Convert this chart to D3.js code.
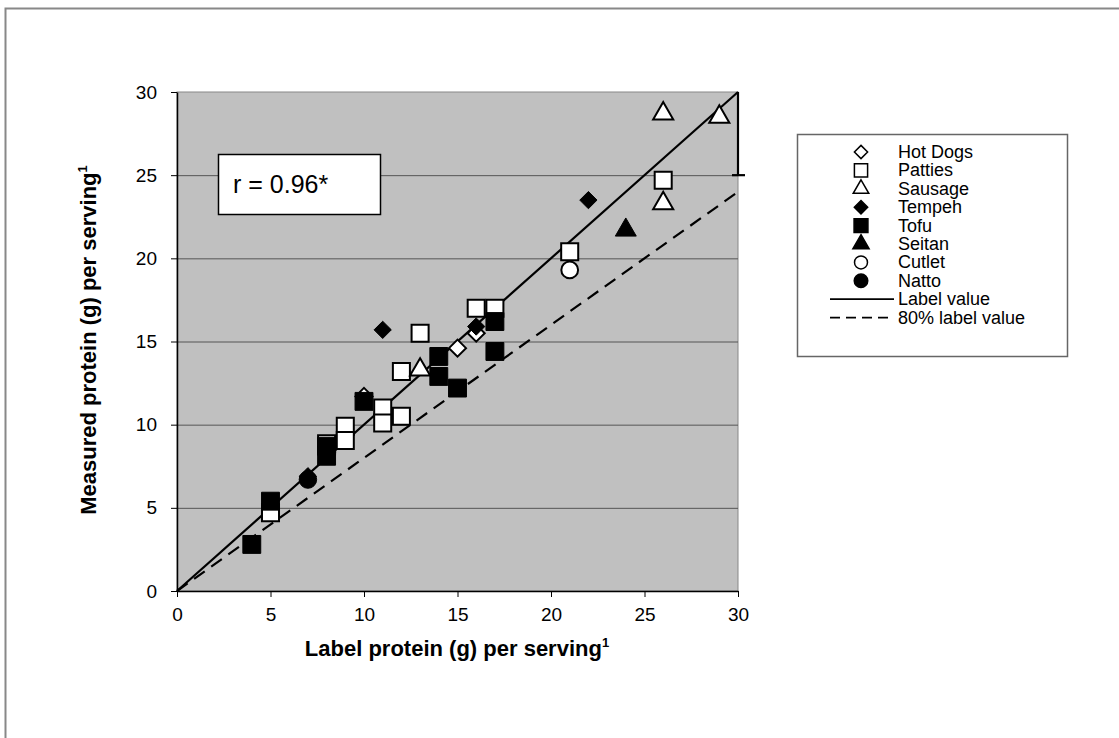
<!DOCTYPE html>
<html lang="en">
<head>
  <meta charset="UTF-8">
  <title>Label vs measured protein</title>
  <style>
    body { margin: 0; background: #fff; font-family: "Liberation Sans", Arial, sans-serif; }
    svg { display: block; }
    .grid line { stroke: #555; stroke-width: 1; }
  </style>
</head>
<body>
  <svg width="1119" height="738"></svg>

  <script src="https://d3js.org/d3.v7.min.js"></script>
  <script>
    // data: [label, measured]
    const hotDogs = [[15, 14.6], [16, 15.5], [10, 11.7]];
    const patties = [[5, 4.7], [8, 8.85], [9, 9.9], [9, 9.05], [11, 11.0], [11, 10.1], [12, 13.2],
                     [12, 10.5], [13, 15.5], [16, 17.0], [17, 17.0], [21, 20.4], [26, 24.7]];
    const sausage = [[13, 13.3], [26, 28.7], [26, 23.3], [29, 28.5]];
    const tempeh = [[7, 6.9], [11, 15.7], [16, 15.9], [22, 23.5]];
    const tofu = [[4, 2.8], [5, 5.4], [8, 8.7], [8, 8.1], [10, 11.4], [14, 14.1], [14, 12.9],
                  [15, 12.2], [17, 16.2], [17, 14.4]];
    const seitan = [[24, 21.7]];
    const cutlet = [[21, 19.3]];
    const natto = [[7, 6.7]];

    const xTicks = [0, 5, 10, 15, 20, 25, 30];
    const yTicks = [0, 5, 10, 15, 20, 25, 30];
    const rText = "r = 0.96*";

    const series = [
      { name: "Hot Dogs", data: hotDogs, shape: d3.symbolDiamond2, fill: "#fff", size: 185 },
      { name: "Patties", data: patties, shape: d3.symbolSquare, fill: "#fff", size: 290 },
      { name: "Sausage", data: sausage, shape: d3.symbolTriangle, fill: "#fff", size: 175 },
      { name: "Tempeh", data: tempeh, shape: d3.symbolDiamond2, fill: "#000", size: 190 },
      { name: "Tofu", data: tofu, shape: d3.symbolSquare, fill: "#000", size: 320 },
      { name: "Seitan", data: seitan, shape: d3.symbolTriangle, fill: "#000", size: 190 },
      { name: "Cutlet", data: cutlet, shape: d3.symbolCircle, fill: "#fff", size: 220 },
      { name: "Natto", data: natto, shape: d3.symbolCircle, fill: "#000", size: 240 }
    ];

    const svg = d3.select("svg");

    // outer chart frame (only left and top edges fall inside the picture)
    svg.append("rect")
      .attr("x", 5.5).attr("y", 8.5)
      .attr("width", 1300).attr("height", 900)
      .attr("fill", "none").attr("stroke", "#888").attr("stroke-width", 2);

    const plotL = 177, plotR = 738, plotT = 92, plotB = 591;
    const x = d3.scaleLinear().domain([0, 30]).range([plotL, plotR]);
    const y = d3.scaleLinear().domain([0, 30]).range([plotB, plotT]);

    svg.append("rect")
      .attr("x", plotL).attr("y", plotT)
      .attr("width", plotR - plotL).attr("height", plotB - plotT)
      .attr("fill", "#c0c0c0").attr("stroke", "#888");

    svg.append("g").attr("class", "grid")
      .selectAll("line")
      .data(yTicks.filter(d => d > 0 && d < 30))
      .join("line")
      .attr("x1", plotL).attr("x2", plotR)
      .attr("y1", d => y(d) + 0.5).attr("y2", d => y(d) + 0.5);

    const xAxis = svg.append("g")
      .attr("transform", `translate(0,${plotB})`)
      .call(d3.axisBottom(x).tickValues(xTicks).tickSize(6).tickSizeOuter(0).tickPadding(11));
    const yAxis = svg.append("g")
      .attr("transform", `translate(${plotL},0)`)
      .call(d3.axisLeft(y).tickValues(yTicks).tickSize(6).tickSizeOuter(0).tickPadding(14));
    [xAxis, yAxis].forEach(a => {
      a.select(".domain").attr("stroke", "#000").attr("stroke-width", 1.5);
      a.selectAll(".tick line").attr("stroke", "#000");
      a.selectAll(".tick text")
        .attr("fill", "#000")
        .style("font-family", "'Liberation Sans', Arial, sans-serif")
        .style("font-size", "19px");
    });

    // reference lines
    svg.append("line")
      .attr("x1", x(0)).attr("y1", y(0)).attr("x2", x(30)).attr("y2", y(30))
      .attr("stroke", "#000").attr("stroke-width", 2.2);
    svg.append("line")
      .attr("x1", x(0)).attr("y1", y(0)).attr("x2", x(30)).attr("y2", y(30 * 0.8))
      .attr("stroke", "#000").attr("stroke-width", 2.2).attr("stroke-dasharray", "13,8");

    // error bar at the end of the label line
    svg.append("line")
      .attr("x1", x(30)).attr("x2", x(30)).attr("y1", y(30)).attr("y2", y(25))
      .attr("stroke", "#000").attr("stroke-width", 2.2);
    svg.append("line")
      .attr("x1", x(30) - 6).attr("x2", x(30) + 7).attr("y1", y(25)).attr("y2", y(25))
      .attr("stroke", "#000").attr("stroke-width", 2.2);

    // points
    series.forEach(s => {
      svg.append("g")
        .selectAll("path")
        .data(s.data)
        .join("path")
        .attr("transform", d => `translate(${x(d[0])},${y(d[1])})`)
        .attr("d", d3.symbol().type(s.shape).size(s.size))
        .attr("fill", s.fill)
        .attr("stroke", "#000")
        .attr("stroke-width", s.fill === "#fff" ? 2 : 1);
    });

    // r box
    svg.append("rect")
      .attr("x", 218.5).attr("y", 154.5).attr("width", 162).attr("height", 60)
      .attr("fill", "#fff").attr("stroke", "#000").attr("stroke-width", 1.5);
    svg.append("text")
      .attr("x", 233).attr("y", 193)
      .attr("font-size", 25)
      .text(rText);

    // axis titles
    const xt = svg.append("text")
      .attr("x", 457).attr("y", 656)
      .attr("text-anchor", "middle")
      .attr("font-size", 22).attr("font-weight", "bold");
    xt.append("tspan").text("Label protein (g) per serving");
    xt.append("tspan").attr("dy", -9).attr("font-size", 13).text("1");

    const yt = svg.append("text")
      .attr("transform", "translate(96,340) rotate(-90)")
      .attr("text-anchor", "middle")
      .attr("font-size", 22).attr("font-weight", "bold");
    yt.append("tspan").text("Measured protein (g) per serving");
    yt.append("tspan").attr("dy", -9).attr("font-size", 13).text("1");

    // legend
    const legend = svg.append("g").attr("class", "legend");
    legend.append("rect")
      .attr("x", 797.5).attr("y", 134.5).attr("width", 270).attr("height", 222)
      .attr("fill", "#fff").attr("stroke", "#666").attr("stroke-width", 1.5);

    const rowY = i => 152 + i * 18.4;
    series.forEach((s, i) => {
      legend.append("path")
        .attr("transform", `translate(861,${rowY(i)})`)
        .attr("d", d3.symbol().type(s.shape).size(s.size * 0.6))
        .attr("fill", s.fill)
        .attr("stroke", "#000")
        .attr("stroke-width", 1.5);
      legend.append("text")
        .attr("x", 898).attr("y", rowY(i) + 6)
        .attr("font-size", 18)
        .text(s.name);
    });

    const lines = [{ name: "Label value", dash: null }, { name: "80% label value", dash: "10,6" }];
    lines.forEach((l, j) => {
      const yy = rowY(series.length + j);
      legend.append("line")
        .attr("x1", 830).attr("x2", 894).attr("y1", yy).attr("y2", yy)
        .attr("stroke", "#000").attr("stroke-width", 1.8)
        .attr("stroke-dasharray", l.dash);
      legend.append("text")
        .attr("x", 898).attr("y", yy + 6)
        .attr("font-size", 18)
        .text(l.name);
    });
  </script>
</body>
</html>
